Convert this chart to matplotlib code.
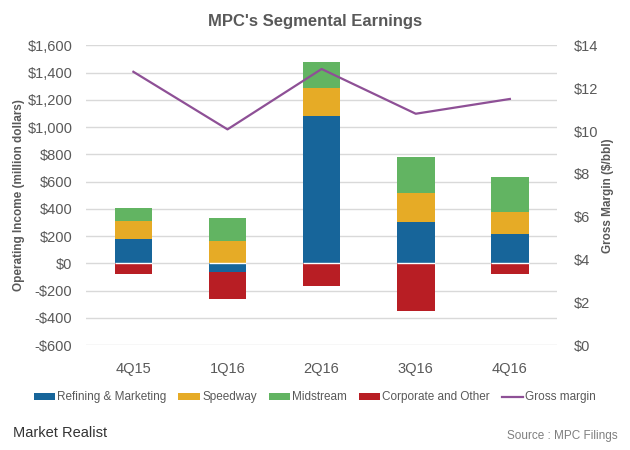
import matplotlib
matplotlib.use("Agg")
import matplotlib.pyplot as plt
import numpy as np

# data
quarters = ["4Q15", "1Q16", "2Q16", "3Q16", "4Q16"]
refining = [180, -60, 1085, 305, 213]
speedway = [130, 165, 200, 212, 168]
midstream = [95, 167, 195, 262, 250]
corporate = [-76, -203, -163, -346, -76]
gross_margin = [12.77, 10.08, 12.9, 10.81, 11.5]

c_blue = "#17659A"
c_yellow = "#E6AB26"
c_green = "#62B462"
c_red = "#B81E24"
c_purple = "#8E5096"
gray = "#595959"

plt.rcParams["font.family"] = ["Liberation Sans", "DejaVu Sans"]

fig = plt.figure(figsize=(6.3, 4.5), dpi=100)
ax = fig.add_axes([0.137, 0.233, 0.747, 0.666])
ax2 = ax.twinx()

x = np.arange(len(quarters))
w = 0.40
ref = np.array(refining)
spd = np.array(speedway)
mid = np.array(midstream)
cor = np.array(corporate)

# positive parts stack upward from max(refining, 0)
pos_base = np.maximum(ref, 0)
neg_base = np.minimum(ref, 0)
ax.bar(x, ref, w, color=c_blue, label="Refining & Marketing", zorder=2)
ax.bar(x, spd, w, bottom=pos_base, color=c_yellow, label="Speedway", zorder=2)
ax.bar(x, mid, w, bottom=pos_base + spd, color=c_green, label="Midstream", zorder=2)
ax.bar(x, cor, w, bottom=neg_base, color=c_red, label="Corporate and Other", zorder=2)
# thin white seam at zero on each bar
ax.hlines(np.zeros(len(x)), x - w / 2, x + w / 2, color="white", lw=1, zorder=2.5)

ax2.plot(x, gross_margin, color=c_purple, lw=1.6, label="Gross margin", zorder=3)

ax.set_xlim(-0.5, 4.5)
ax.set_ylim(-600, 1600)
ax.set_yticks(range(-600, 1601, 200))
ax.set_yticklabels([("-$" if v < 0 else "$") + f"{abs(v):,}" for v in range(-600, 1601, 200)])
ax2.set_ylim(0, 14)
ax2.set_yticks(range(0, 15, 2))
ax2.set_yticklabels([f"${v}" for v in range(0, 15, 2)])

ax.set_xticks(x)
ax.set_xticklabels(quarters)
ax.grid(axis="y", color="#D9D9D9", lw=1, zorder=0)
ax.set_axisbelow(True)
for a in (ax, ax2):
    for s in a.spines.values():
        s.set_visible(False)
    a.tick_params(length=0, labelsize=10.5, colors=gray)
ax.tick_params(axis="x", pad=12)
ax.tick_params(axis="y", pad=10)
ax2.tick_params(axis="y", pad=12)

ax.set_ylabel("Operating Income (million dollars)", fontsize=8.5, fontweight="bold",
              color=gray, labelpad=2)
ax2.set_ylabel("Gross Margin ($/bbl)", fontsize=8.5, fontweight="bold",
               color=gray, labelpad=3)

fig.text(0.5, 0.953, "MPC's Segmental Earnings", ha="center", va="center",
         fontsize=12, fontweight="bold", color=gray)

h1, l1 = ax.get_legend_handles_labels()
h2, l2 = ax2.get_legend_handles_labels()
fig.legend(h1 + h2, l1 + l2, loc="center", bbox_to_anchor=(0.5, 0.117), ncol=5,
           frameon=False, fontsize=8.5, labelcolor=gray, handlelength=1.8,
           handleheight=0.5, handletextpad=0.2, columnspacing=1.0)

fig.text(0.02, 0.038, "Market Realist", ha="left", va="center", fontsize=10.5,
         color="#333333", fontstretch="condensed")
fig.text(0.98, 0.032, "Source : MPC Filings", ha="right", va="center",
         fontsize=8.5, color="#7F7F7F")

fig.savefig("out.png", dpi=100)
